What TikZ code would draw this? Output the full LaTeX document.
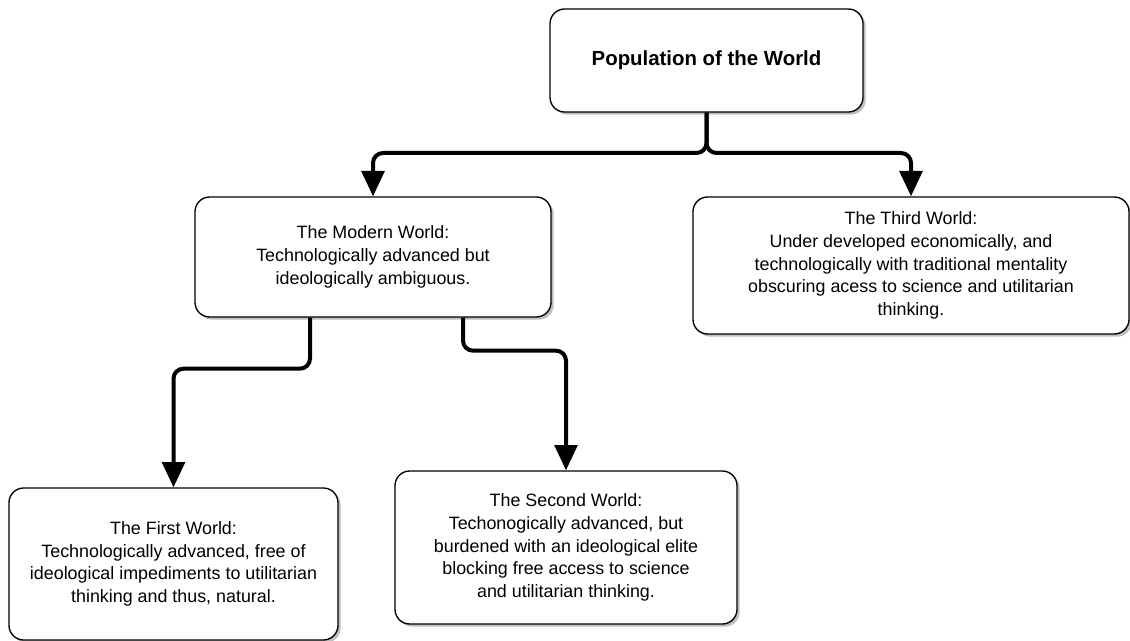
\documentclass[tikz,border=0pt]{standalone}
\usepackage{fontspec}
\setmainfont{Liberation Sans}
\usetikzlibrary{arrows.meta,shadows,calc}
\tikzset{
  worldbox/.style = {shape=rectangle, rounded corners=11pt,
                     draw, line width=1pt, align=center, fill=white,
                     drop shadow={shadow xshift=2pt, shadow yshift=-2pt,
                                  fill=black!25, opacity=1},
                     inner sep=0pt, font=\fontsize{13.4}{17}\selectfont},
  rootbox/.style  = {worldbox, font=\fontsize{15.3}{18}\selectfont\bfseries},
  link/.style     = {line width=3pt, rounded corners=7.5pt,
                     -{Triangle[width=17pt,length=19pt]}}
}

\begin{document}
\begin{tikzpicture}[x=0.75pt, y=-0.75pt]
  \useasboundingbox (0,0) rectangle (1130,641);

  \node [rootbox, minimum width=234.75pt, minimum height=77.25pt]
    (population) at (706.5,60.5) {Population of the World};
  \node [worldbox, minimum width=267pt, minimum height=90pt]
    (modern) at (373,257) {The Modern World:\\ Technologically advanced but\\ ideologically ambiguous.};
  \node [worldbox, minimum width=327pt, minimum height=102.75pt]
    (third) at (911,265.5) {The Third World:\\ Under developed economically, and\\ technologically with traditional mentality\\ obscuring acess to science and utilitarian\\ thinking.};
  \node [worldbox, minimum width=246.75pt, minimum height=114pt]
    (first) at (173.5,564) {The First World:\\ Technologically advanced, free of\\ ideological impediments to utilitarian\\ thinking and thus, natural.};
  \node [worldbox, minimum width=256.5pt, minimum height=114.75pt]
    (second) at (566,547.5) {The Second World:\\ Techonogically advanced, but\\ burdened with an ideological elite\\ blocking free access to science\\ and utilitarian thinking.};

  % connectors
  \coordinate (split) at (706.5,153);
  \coordinate (modernL) at ($(modern.south)+(-63,0)$);
  \coordinate (modernR) at ($(modern.south)+(90,0)$);

  \draw [link] (population.south) -- (split) -| (modern.north);
  \draw [link] (population.south) -- (split) -| (third.north);
  \draw [link] (modernL) -- ++(0,51) -| (first.north);
  \draw [link] (modernR) -- ++(0,33) -| (second.north);
\end{tikzpicture}
\end{document}
